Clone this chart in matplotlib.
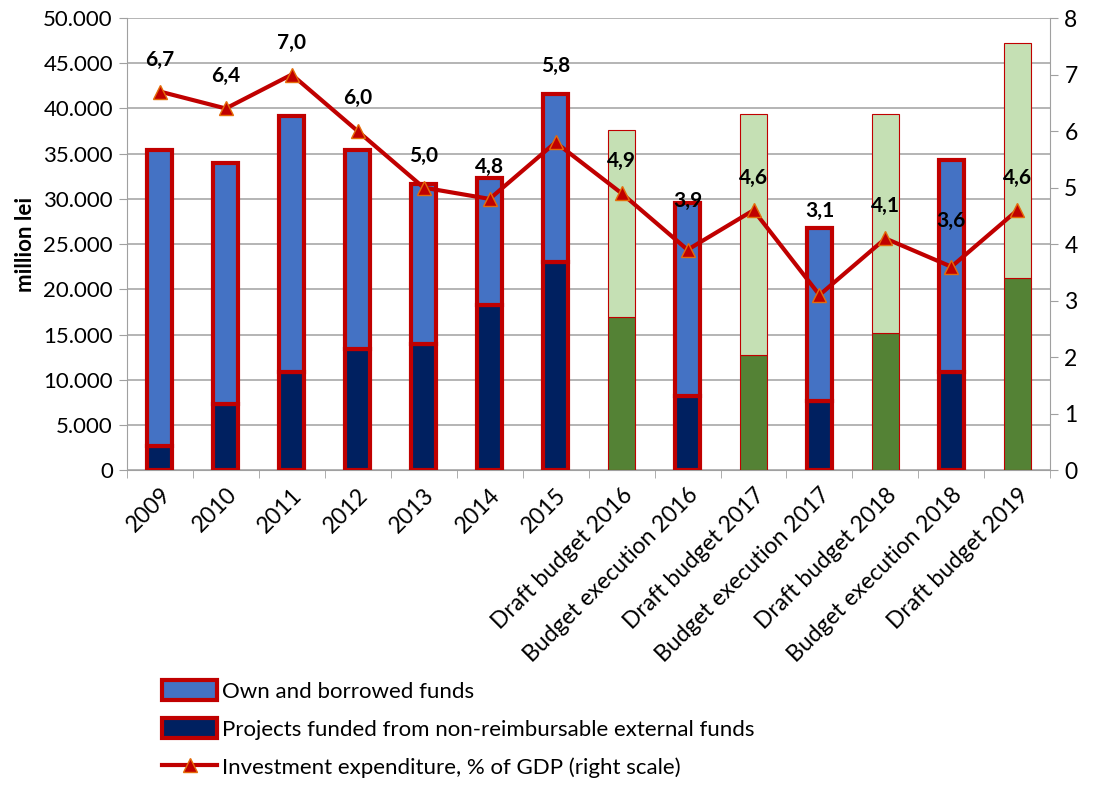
import matplotlib
matplotlib.use("Agg")
import matplotlib.pyplot as plt
from matplotlib.patches import Patch
from matplotlib.lines import Line2D
import numpy as np

plt.rcParams['font.family'] = ['Lato', 'DejaVu Sans']

categories = ["2009", "2010", "2011", "2012", "2013", "2014", "2015",
              "Draft budget 2016", "Budget execution 2016", "Draft budget 2017",
              "Budget execution 2017", "Draft budget 2018", "Budget execution 2018",
              "Draft budget 2019"]
external_funds = [2700, 7300, 10900, 13400, 14000, 18300, 23000,
                  16900, 8200, 12700, 7700, 15200, 10900, 21300]
own_funds_total = [35400, 34000, 39200, 35400, 31600, 32300, 41600,
                   37600, 29500, 39400, 26800, 39400, 34300, 47200]
invest_pct_gdp = [6.7, 6.4, 7.0, 6.0, 5.0, 4.8, 5.8, 4.9, 3.9, 4.6, 3.1, 4.1, 3.6, 4.6]
is_draft = [False] * 7 + [True, False, True, False, True, False, True]
# vertical label offsets (pixels) as placed in the original
label_offsets = [32, 33, 32, 33, 32, 32, 76, 32, 49, 32, 84, 33, 46, 32]

RED = "#C00000"
BLUE = "#4472C4"
NAVY = "#002060"
LGREEN = "#C5E0B4"
GREEN = "#548235"

fig = plt.figure(figsize=(10.93, 7.85), dpi=100)
ax = fig.add_axes([0.116, 0.401, 0.845, 0.576])
x = np.arange(len(categories))
own_part = np.array(own_funds_total) - np.array(external_funds)

for i in x:
    if is_draft[i]:
        ax.bar(i, external_funds[i], width=0.4, color=GREEN, edgecolor=RED, linewidth=0.8, zorder=3)
        ax.bar(i, own_part[i], bottom=external_funds[i], width=0.4, color=LGREEN,
               edgecolor=RED, linewidth=0.8, zorder=3)
    else:
        ax.bar(i, external_funds[i], width=0.38, color=NAVY, edgecolor=RED, linewidth=3, zorder=3)
        ax.bar(i, own_part[i], bottom=external_funds[i], width=0.38, color=BLUE,
               edgecolor=RED, linewidth=3, zorder=3)

ax.set_ylim(0, 50000)
ax.set_xlim(-0.5, len(categories) - 0.5)
ax.set_yticks(np.arange(0, 50001, 5000))
ax.set_yticklabels([f"{v:,}".replace(",", ".") for v in range(0, 50001, 5000)], fontsize=16)
ax.yaxis.grid(True, color="#A0A0A0", linewidth=1.1, zorder=0)
ax.set_axisbelow(True)
ax.set_ylabel("million lei", fontsize=16, fontweight="bold", labelpad=5)

ax.set_xticks(x)
ax.set_xticklabels(categories, rotation=45, ha="right", rotation_mode="anchor", fontsize=16.5)
ax.tick_params(axis="x", length=0, pad=10)
ax.set_xticks(np.arange(-0.5, len(categories)), minor=True)
ax.tick_params(axis="x", which="minor", length=6, color="#A0A0A0")
ax.tick_params(axis="y", length=6, color="#A0A0A0", pad=4)
for s in ["top", "right"]:
    ax.spines[s].set_visible(False)
for s in ["left", "bottom"]:
    ax.spines[s].set_color("#A0A0A0")

ax2 = ax.twinx()
ax2.plot(x, invest_pct_gdp, color=RED, linewidth=3, marker="^", markersize=10,
         markerfacecolor=RED, markeredgecolor="#E46C0A", markeredgewidth=1, zorder=5)
ax2.set_ylim(0, 8)
ax2.set_yticks(range(0, 9))
ax2.tick_params(axis="y", labelsize=16.5, length=6, color="#A0A0A0", pad=4)
for s in ["top", "left", "bottom"]:
    ax2.spines[s].set_visible(False)
ax2.spines["right"].set_color("#A0A0A0")

for i, v in enumerate(invest_pct_gdp):
    ax2.annotate(f"{v:.1f}".replace(".", ","), (i, v), xytext=(0, label_offsets[i]),
                 textcoords="offset pixels", ha="center", va="center",
                 fontsize=15, fontweight="bold", zorder=6)

handles = [Patch(facecolor=BLUE, edgecolor=RED, linewidth=3),
           Patch(facecolor=NAVY, edgecolor=RED, linewidth=3),
           Line2D([0], [0], color=RED, linewidth=3, marker="^", markersize=10,
                  markerfacecolor=RED, markeredgecolor="#E46C0A")]
labels = ["Own and borrowed funds",
          "Projects funded from non-reimbursable external funds",
          "Investment expenditure, % of GDP (right scale)"]
fig.legend(handles, labels, loc="upper left", bbox_to_anchor=(0.14, 0.145),
           frameon=False, fontsize=16, handlelength=2.5, handleheight=1.0,
           handletextpad=0.2, labelspacing=0.75, borderaxespad=0)

fig.savefig("out.png", dpi=100)
